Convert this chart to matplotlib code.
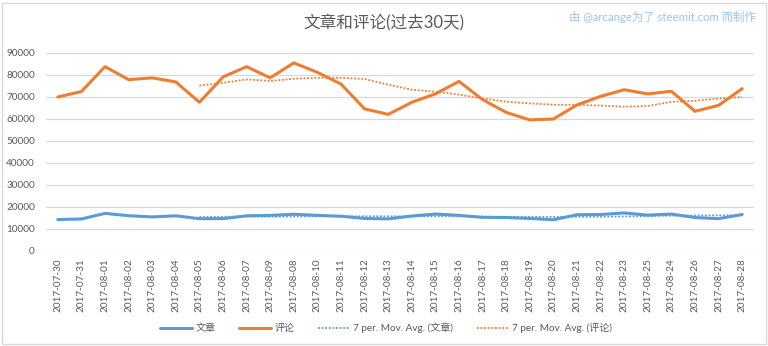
import matplotlib
matplotlib.use("Agg")
import matplotlib.pyplot as plt
import numpy as np
from matplotlib.patches import Rectangle

plt.rcParams['font.family'] = ['Lato', 'Noto Sans CJK SC', 'DejaVu Sans']

# 日期标签（原图中有两处顺序颠倒，照原样保留）
dates = ["2017-07-30", "2017-07-31", "2017-08-01", "2017-08-02", "2017-08-03",
         "2017-08-04", "2017-08-05", "2017-08-06", "2017-08-07", "2017-08-09",
         "2017-08-08", "2017-08-10", "2017-08-11", "2017-08-12", "2017-08-13",
         "2017-08-14", "2017-08-15", "2017-08-16", "2017-08-17", "2017-08-18",
         "2017-08-19", "2017-08-20", "2017-08-21", "2017-08-22", "2017-08-23",
         "2017-08-25", "2017-08-24", "2017-08-26", "2017-08-27", "2017-08-28"]

# 文章
posts = [14300, 14550, 17100, 16050, 15500, 16000, 14700, 14700, 16000, 16200,
         16700, 16200, 15800, 14800, 14600, 15900, 16800, 16200, 15300, 15200,
         14800, 14200, 16500, 16600, 17300, 16300, 16800, 15200, 14700, 16600]

# 评论
comments = [70000, 72500, 83800, 77900, 78700, 76850, 67600, 79100, 83800, 78700,
            85500, 81200, 75900, 64600, 62100, 67600, 71400, 77100, 68800, 63000,
            59600, 60000, 66400, 70300, 73300, 71400, 72600, 63500, 66200, 73800]

# 7 per. Mov. Avg. (从第7个点开始)
posts_ma = [15460, 15510, 15720, 15590, 15690, 15790, 15760, 15770, 15760, 15740,
            15830, 15760, 15630, 15540, 15540, 15490, 15570, 15540, 15700, 15840,
            16070, 16130, 16200, 16210]
comments_ma = [75200, 76400, 78000, 77300, 78300, 78700, 78700, 78200, 75600, 73300,
               72400, 71100, 69300, 67900, 67100, 66500, 66400, 66100, 65600, 65900,
               67800, 68300, 69300, 70000]

blue = '#5b9bd5'
orange = '#ed7d31'
gray = '#595959'

fig = plt.figure(figsize=(7.68, 3.46), dpi=100)
ax = fig.add_axes([46 / 768, 95 / 346, 708 / 768, 198 / 346])

x = np.arange(len(dates))
x_ma = x[6:]

ax.plot(x, posts, color=blue, lw=2.2, label='文章', solid_capstyle='round')
ax.plot(x, comments, color=orange, lw=2.2, label='评论', solid_capstyle='round')
ax.plot(x_ma, posts_ma, color=blue, lw=1.3, ls=(0, (1, 1)), label='7 per. Mov. Avg. (文章)')
ax.plot(x_ma, comments_ma, color=orange, lw=1.3, ls=(0, (1, 1)), label='7 per. Mov. Avg. (评论)')

ax.set_xlim(-0.5, len(dates) - 0.5)
ax.set_ylim(0, 90000)
ax.set_yticks(np.arange(0, 90001, 10000))
ax.set_xticks(x)
ax.set_xticklabels(dates, rotation=90, fontsize=7.2, color=gray)
ax.tick_params(axis='y', length=0, pad=8, labelsize=7.2, labelcolor=gray)
ax.tick_params(axis='x', length=0, pad=5)
ax.grid(axis='y', color='#d9d9d9', lw=0.9)
ax.set_axisbelow(True)
for s in ax.spines.values():
    s.set_visible(False)

fig.text(0.5, 0.935, '文章和评论(过去30天)', ha='center', va='center',
         fontsize=12, color=gray)
fig.text(0.984, 0.952, '由 @arcange为了 steemit.com 而制作', ha='right', va='center',
         fontsize=8.2, color='#9dc3e6')

fig.legend(loc='center', bbox_to_anchor=(0.503, 0.052), ncol=4, frameon=False,
           fontsize=7.2, handlelength=3.2, handletextpad=0.3, columnspacing=2.4,
           labelcolor=gray)

fig.patches.append(Rectangle((1.5 / 768, 2.5 / 346), 764.5 / 768, 341 / 346,
                             transform=fig.transFigure, fill=False,
                             edgecolor='#d9d9d9', lw=1))

fig.savefig('out.png', dpi=100)
